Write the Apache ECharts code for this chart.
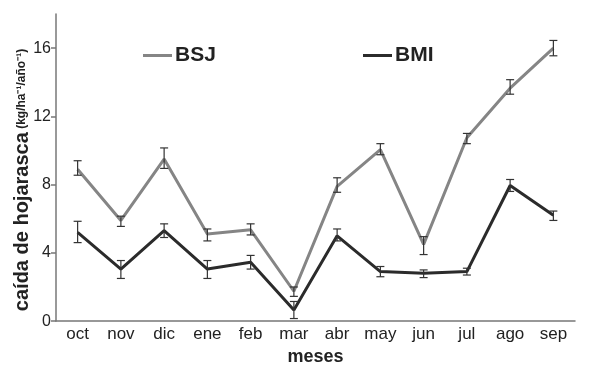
<!DOCTYPE html>
<html><head><meta charset="utf-8">
<script src="https://cdn.jsdelivr.net/npm/echarts@6/dist/echarts.min.js"></script>
<style>html,body{margin:0;padding:0;background:#fff}#c{width:607px;height:371px}</style>
</head><body><div id="c"></div>
<script>
const months = ['oct','nov','dic','ene','feb','mar','abr','may','jun','jul','ago','sep'];
const bsj = [8.9, 5.9, 9.5, 5.1, 5.35, 1.75, 7.9, 10.05, 4.5, 10.75, 13.65, 16.0];
const bsjLow = [8.55, 5.55, 8.95, 4.7, 5.05, 1.45, 7.55, 9.75, 3.9, 10.4, 13.3, 15.55];
const bsjHigh = [9.4, 6.15, 10.15, 5.4, 5.7, 2.0, 8.4, 10.4, 4.95, 11.0, 14.15, 16.45];
const bmi = [5.2, 3.05, 5.3, 3.05, 3.45, 0.65, 5.0, 2.9, 2.8, 2.9, 7.95, 6.2];
const bmiLow = [4.6, 2.5, 4.9, 2.5, 3.05, 0.15, 4.7, 2.6, 2.55, 2.7, 7.6, 5.9];
const bmiHigh = [5.85, 3.55, 5.7, 3.55, 3.85, 1.15, 5.4, 3.2, 3.0, 3.1, 8.3, 6.45];
const yTicks = [0, 4, 8, 12, 16];

const errData = (lo, hi) => lo.map((v, i) => [i, v, hi[i]]);
function errRender(params, api) {
  const x = api.value(0);
  const lo = api.coord([x, api.value(1)]);
  const hi = api.coord([x, api.value(2)]);
  const w = 4;
  const st = {stroke: '#333', lineWidth: 1.2};
  return {type: 'group', children: [
    {type: 'line', shape: {x1: lo[0], y1: lo[1], x2: hi[0], y2: hi[1]}, style: st},
    {type: 'line', shape: {x1: lo[0]-w, y1: lo[1], x2: lo[0]+w, y2: lo[1]}, style: st},
    {type: 'line', shape: {x1: hi[0]-w, y1: hi[1], x2: hi[0]+w, y2: hi[1]}, style: st}
  ]};
}
const chart = echarts.init(document.getElementById('c'));
const font = 'Liberation Sans, Arial, sans-serif';
chart.setOption({
  animation: false,
  textStyle: {fontFamily: font},
  grid: {left: 56, right: 32, top: 14, bottom: 40},
  legend: [
    {data: ['BSJ'], left: 143, top: 45, icon: 'rect', itemWidth: 29, itemHeight: 3, itemGap: 3, padding: 0,
     textStyle: {fontSize: 21, fontWeight: 'bold', color: '#222', fontFamily: font, padding: [0,0,0,-2]}},
    {data: ['BMI'], left: 363, top: 45, icon: 'rect', itemWidth: 29, itemHeight: 3, itemGap: 3, padding: 0,
     textStyle: {fontSize: 21, fontWeight: 'bold', color: '#222', fontFamily: font, padding: [0,0,0,-2]}}
  ],
  xAxis: {
    type: 'category', data: months,
    axisLine: {lineStyle: {color: '#777', width: 1.5}},
    axisTick: {length: 5, lineStyle: {color: '#777', width: 1.5}},
    axisLabel: {fontSize: 17, color: '#222', margin: 5},
    name: 'meses', nameLocation: 'middle', nameGap: 23,
    nameTextStyle: {fontSize: 18, fontWeight: 'bold', color: '#222'}
  },
  yAxis: {
    type: 'value', min: 0, max: 18, interval: 4,
    splitLine: {show: false},
    axisLine: {show: true, lineStyle: {color: '#777', width: 1.5}},
    axisTick: {show: true, length: 5, lineStyle: {color: '#777', width: 1.5}},
    axisLabel: {fontSize: 16, color: '#222', margin: 5, showMaxLabel: false,
      formatter: v => yTicks.includes(v) ? String(v) : ''}
  },
  graphic: [{
    type: 'text', x: 22, y: 180, rotation: Math.PI / 2,
    style: {
      text: '{a|caída de hojarasca} {b|(kg/ha⁻¹/año⁻¹)}',
      align: 'center', verticalAlign: 'middle',
      rich: {
        a: {fontSize: 20, fontWeight: 'bold', fill: '#222', fontFamily: font},
        b: {fontSize: 12, fontWeight: 'bold', fill: '#222', fontFamily: font}
      }
    }
  }],
  series: [
    {name: 'BSJ', type: 'line', data: bsj, symbol: 'none', color: '#858585',
     lineStyle: {width: 3, color: '#858585'}, z: 3},
    {name: 'BMI', type: 'line', data: bmi, symbol: 'none', color: '#2b2b2b',
     lineStyle: {width: 3, color: '#2b2b2b'}, z: 3},
    {type: 'custom', renderItem: errRender, data: errData(bsjLow, bsjHigh), z: 4, encode: {x: 0, y: [1, 2]}},
    {type: 'custom', renderItem: errRender, data: errData(bmiLow, bmiHigh), z: 4, encode: {x: 0, y: [1, 2]}}
  ]
});
</script></body></html>
